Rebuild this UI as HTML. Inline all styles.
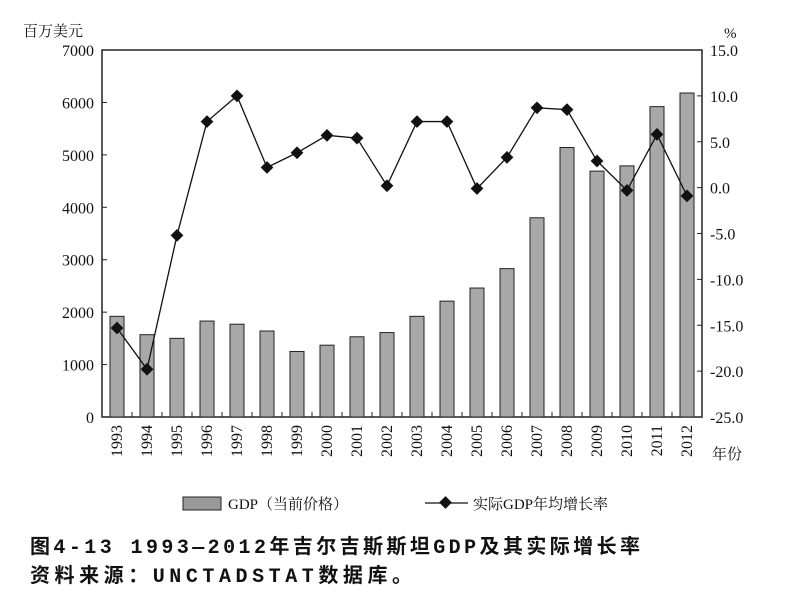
<!DOCTYPE html>
<html><head><meta charset="utf-8"><style>
body{margin:0;background:#fff;width:800px;height:594px;overflow:hidden}
svg{display:block}
text{font-family:"Liberation Serif","Noto Serif CJK SC",serif;fill:#111}
.cap{font-family:"Liberation Mono","Noto Sans CJK SC",monospace;font-size:20px;font-weight:bold}
</style></head><body>
<svg width="800" height="594">
<g id="axes"></g><g id="bars"></g><g id="line"></g>
<text x="23" y="36" font-size="15" font-family="Noto Sans CJK SC,sans-serif">百万美元</text>
<text x="724" y="38" font-size="15">%</text>
<text x="712" y="459" font-size="15" font-family="Noto Sans CJK SC,sans-serif">年份</text>
<g>
<rect x="183" y="497" width="38" height="13" fill="#999" stroke="#222"/>
<text x="228" y="509" font-size="15">GDP（当前价格）</text>
<line x1="425" y1="503" x2="468" y2="503" stroke="#111" stroke-width="1.3"/>
<rect x="441" y="498" width="9" height="9" transform="rotate(45 445.5 502.5)" fill="#111"/>
<text x="473" y="509" font-size="15">实际GDP年均增长率</text>
</g>
<text class="cap" x="30" y="553" textLength="610" lengthAdjust="spacing">图4-13  1993—2012年吉尔吉斯斯坦GDP及其实际增长率</text>
<text class="cap" x="30" y="582" textLength="382" lengthAdjust="spacing">资料来源：UNCTADSTAT数据库。</text>
</svg>
<script>
const years=[1993,1994,1995,1996,1997,1998,1999,2000,2001,2002,2003,2004,2005,2006,2007,2008,2009,2010,2011,2012];
const gdp=[1920,1570,1500,1830,1770,1640,1250,1370,1530,1610,1920,2210,2460,2830,3800,5140,4690,4790,5920,6180];
const growth=[-15.3,-19.8,-5.2,7.2,10.0,2.2,3.8,5.7,5.4,0.2,7.2,7.2,-0.1,3.3,8.7,8.5,2.9,-0.3,5.8,-0.9];
const leftTicks=[0,1000,2000,3000,4000,5000,6000,7000];
const rightTicks=[-25,-20,-15,-10,-5,0,5,10,15];
const X0=102,X1=702,Y0=417,Y1=50,NS="http://www.w3.org/2000/svg";
const step=(X1-X0)/years.length;
const xC=i=>X0+step*(i+0.5);
const yL=v=>Y0-(v/7000)*(Y0-Y1);
const yR=v=>Y0-((v+25)/40)*(Y0-Y1);
function mk(p,t,a){const e=document.createElementNS(NS,t);for(const k in a)e.setAttribute(k,a[k]);p.appendChild(e);return e;}
const ax=document.getElementById('axes'),bg=document.getElementById('bars'),lg=document.getElementById('line');
const frame=mk(ax,'rect',{x:X0,y:Y1,width:X1-X0,height:Y0-Y1,fill:'none',stroke:'#222','stroke-width':1.5});


leftTicks.forEach(v=>{const y=yL(v);mk(ax,'line',{x1:X0,x2:X0+5,y1:y,y2:y,stroke:'#222'});
const t=mk(ax,'text',{x:X0-8,y:y+6,'text-anchor':'end','font-size':16});t.textContent=v;

});
rightTicks.forEach(v=>{const y=yR(v);mk(ax,'line',{x1:X1-5,x2:X1,y1:y,y2:y,stroke:'#222'});
const t=mk(ax,'text',{x:X1+8,y:y+6,'font-size':16});t.textContent=v.toFixed(1);

});
years.forEach((yr,i)=>{const xb=X0+step*(i+1);if(i<years.length-1)mk(ax,'line',{x1:xb,x2:xb,y1:Y0,y2:Y0-5,stroke:'#222'});
const t=mk(ax,'text',{x:0,y:0,'font-size':16,'text-anchor':'end',transform:`translate(${xC(i)+5},${Y0+8}) rotate(-90)`});t.textContent=yr;


const b=mk(bg,'rect',{x:xC(i)-7,y:yL(gdp[i]),width:14,height:Y0-yL(gdp[i]),fill:'#a8a8a8',stroke:'#222','stroke-width':1});

});
const pl=mk(lg,'polyline',{points:growth.map((v,i)=>xC(i)+','+yR(v)).join(' '),fill:'none',stroke:'#111','stroke-width':1.3});


growth.forEach((v,i)=>{const x=xC(i),y=yR(v);
const m=mk(lg,'rect',{x:x-4.5,y:y-4.5,width:9,height:9,fill:'#111',transform:`rotate(45 ${x} ${y})`});

});
</script>
</body></html>
